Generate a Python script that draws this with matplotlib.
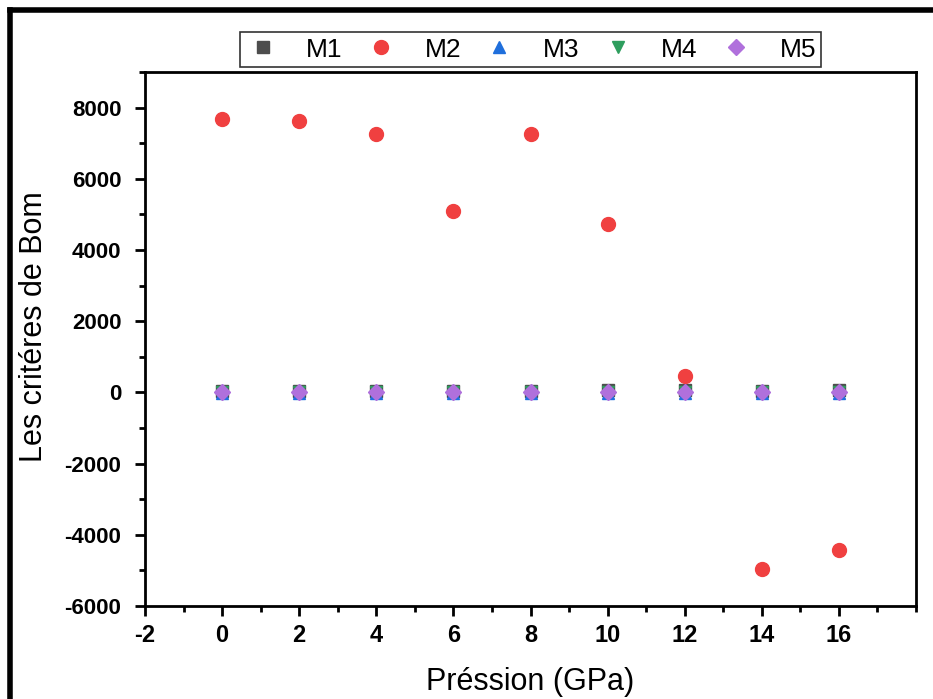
import matplotlib
matplotlib.use("Agg")
import matplotlib.pyplot as plt
from matplotlib.lines import Line2D
from matplotlib.ticker import MultipleLocator

plt.rcParams['font.family'] = ['Liberation Sans', 'DejaVu Sans']
plt.rcParams['axes.unicode_minus'] = False

pressure = [0, 2, 4, 6, 8, 10, 12, 14, 16]
m1 = [50, 45, 40, 35, 40, 70, 60, 35, 70]
m2 = [7680, 7620, 7260, 5090, 7260, 4730, 450, -4970, -4420]
m3 = [-20, -25, -20, -25, -25, -20, -30, -25, -30]
m4 = [10, 0, 5, 0, 0, 10, 10, 0, 10]
m5 = [0, 0, 0, 0, 0, 0, 0, 0, 0]

series = [
    ("M1", m1, 's', '#4d4d4d', 8),
    ("M2", m2, 'o', '#f04040', 10),
    ("M3", m3, '^', '#1f6fdc', 9),
    ("M4", m4, 'v', '#2e9e5e', 9),
    ("M5", m5, 'D', '#b070dc', 8),
]

fig = plt.figure(figsize=(9.33, 6.99), dpi=100)
ax = fig.add_axes([0.1554, 0.133, 0.8264, 0.764])

for name, vals, mk, col, ms in series:
    ax.plot(pressure, vals, linestyle='none', marker=mk, color=col,
            markersize=ms, label=name)

ax.set_xlim(-2, 18)
ax.set_ylim(-6000, 9000)
ax.set_xticks([-2, 0, 2, 4, 6, 8, 10, 12, 14, 16])
ax.set_yticks([-6000, -4000, -2000, 0, 2000, 4000, 6000, 8000])
ax.xaxis.set_minor_locator(MultipleLocator(1))
ax.yaxis.set_minor_locator(MultipleLocator(1000))
ax.tick_params(which='major', direction='out', length=7, width=2,
               labelsize=16, top=False, right=False)
ax.tick_params(axis='y', which='major', pad=10)
ax.tick_params(axis='x', which='major', pad=6, labelsize=17)
ax.tick_params(which='minor', direction='out', length=4, width=2,
               top=False, right=False)
for lbl in ax.get_xticklabels() + ax.get_yticklabels():
    lbl.set_fontweight('bold')
for s in ax.spines.values():
    s.set_linewidth(2)

ax.set_xlabel("Préssion (GPa)", fontsize=22, labelpad=14)
ax.set_ylabel("Les critéres de Bom", fontsize=22)
ax.yaxis.set_label_coords(-0.125, 0.524)

leg = fig.legend(loc='center', bbox_to_anchor=(0.569, 0.929), ncol=5,
                 fontsize=19, frameon=True, fancybox=False, edgecolor='black',
                 handletextpad=1.0, columnspacing=0.8, borderpad=0.2,
                 handlelength=1.3, borderaxespad=0)
leg.get_frame().set_linewidth(1.2)

# figure frame (left and top)
fig.add_artist(Line2D([0.0107, 0.0107], [0.0, 0.986], transform=fig.transFigure,
                      color='black', linewidth=4))
fig.add_artist(Line2D([0.0107, 1.0], [0.986, 0.986], transform=fig.transFigure,
                      color='black', linewidth=4))

fig.savefig("out.png", dpi=100)
